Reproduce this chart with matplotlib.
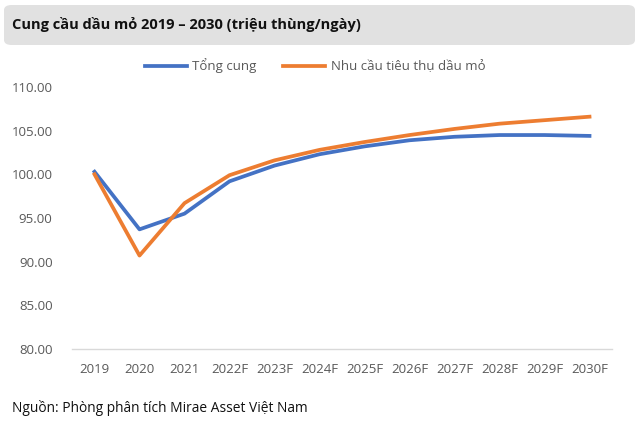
import matplotlib
matplotlib.use("Agg")
import matplotlib.pyplot as plt
from matplotlib.patches import FancyBboxPatch

plt.rcParams["font.family"] = ["Open Sans", "DejaVu Sans"]

years = ["2019", "2020", "2021", "2022F", "2023F", "2024F", "2025F",
         "2026F", "2027F", "2028F", "2029F", "2030F"]
supply = [100.3, 93.7, 95.5, 99.2, 101.0, 102.3, 103.2, 103.9, 104.3, 104.5, 104.5, 104.4]
demand = [100.0, 90.7, 96.7, 99.9, 101.6, 102.8, 103.7, 104.5, 105.2, 105.8, 106.2, 106.6]
yticks = [80, 85, 90, 95, 100, 105, 110]

W, H = 640, 425
fig = plt.figure(figsize=(W / 100, H / 100), dpi=100)
fig.patch.set_facecolor("white")

# title box
box = FancyBboxPatch((4 / W, 1 - 45 / H), 631 / W, 40 / H,
                     boxstyle="round,pad=0,rounding_size=0.012",
                     transform=fig.transFigure, facecolor="#e1e1e1",
                     edgecolor="none", zorder=0)
fig.patches.append(box)
fig.text(12 / W, 1 - 24 / H, "Cung cầu dầu mỏ 2019 – 2030 (triệu thùng/ngày)",
         fontsize=10.5, fontweight="bold", color="#111111", va="center", ha="left")

ax = fig.add_axes([72 / W, 1 - 349 / H, 540 / W, 262 / H])
x = list(range(len(years)))
ax.plot(x, supply, color="#4472C4", lw=2.7, label="Tổng cung", solid_joinstyle="round")
ax.plot(x, demand, color="#ED7D31", lw=2.7, label="Nhu cầu tiêu thụ dầu mỏ", solid_joinstyle="round")

ax.set_xlim(-0.5, len(years) - 0.5)
ax.set_ylim(80, 110)
ax.set_yticks(yticks)
ax.set_yticklabels([f"{v:.2f}" for v in yticks])
ax.set_xticks(x)
ax.set_xticklabels(years)
for s in ["top", "right", "left"]:
    ax.spines[s].set_visible(False)
ax.spines["bottom"].set_color("#d9d9d9")
ax.spines["bottom"].set_linewidth(1)
ax.tick_params(axis="both", length=0, labelsize=9.5, labelcolor="#595959")
ax.tick_params(axis="y", pad=14)
ax.tick_params(axis="x", pad=10)
ax.set_facecolor("none")

leg = fig.legend(loc="center", bbox_to_anchor=(315 / W, 1 - 66 / H), ncol=2,
                 frameon=False, fontsize=9.5, handlelength=3.2, columnspacing=2.0,
                 handletextpad=0.4)
for t in leg.get_texts():
    t.set_color("#595959")

fig.text(12 / W, 1 - 408 / H, "Nguồn: Phòng phân tích Mirae Asset Việt Nam",
         fontsize=9.9, color="#111111", va="center", ha="left")

fig.savefig("out.png", dpi=100)
